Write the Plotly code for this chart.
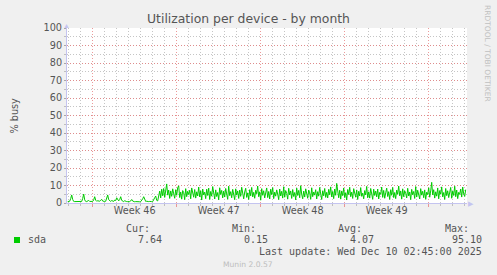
import plotly.graph_objects as go
import pandas as pd

# ---- data (2-hour averages, % busy) ----
series_start = "2025-11-06 22:00"

quiet_period = [
    0.8, 0.7, 1.0, 2.5, 4.6, 2.0, 0.9, 0.8, 0.8, 0.7, 0.8, 0.7,
    0.8, 0.8, 0.9, 2.6, 5.1, 1.8, 0.9, 0.8, 1.2, 1.5, 0.9, 0.8,
    0.8, 0.9, 1.8, 3.6, 1.6, 1.0, 1.3, 0.9, 1.0, 1.6, 2.1, 1.1,
    0.8, 0.9, 1.0, 2.3, 4.6, 1.9, 1.0, 0.9, 1.4, 1.0, 0.9, 1.7,
    1.4, 3.0, 1.5, 1.2, 2.0, 3.6, 1.5, 0.9, 0.8, 1.3, 0.9, 0.8,
    0.8, 0.7, 0.8, 1.2, 2.0, 1.1, 0.8, 0.7, 0.8, 0.7, 0.8, 0.8,
    0.7, 0.8, 1.4, 2.4, 3.6, 1.6, 0.9, 1.0, 0.8, 0.8, 0.9, 0.7,
    0.8, 0.8, 1.6, 3.0, 4.0, 1.5, 1.2, 3.5,
]

busy_period_a = [
    6.8, 2.9, 7.9, 4.1, 8.3, 3.2, 6.1, 10.9, 4.5, 7.4, 2.6, 6.9,
    3.8, 8.1, 5.2, 2.7, 7.6, 4.4, 8.8, 9.8, 3.1, 6.3, 2.2, 7.1,
    5.9, 1.9, 8.2, 3.6, 6.7, 4.8, 7.3, 2.4, 8.6, 5.1, 3.3, 7.7,
    2.8, 6.4, 4.0, 9.1, 3.5, 7.0, 1.7, 8.0, 4.6, 6.2, 2.5, 7.9,
    4.3, 8.5, 2.0, 6.6, 3.9, 9.4, 5.4, 2.3, 7.5, 3.7, 6.0, 1.8,
    8.7, 4.9, 7.2, 2.9, 6.8, 3.4, 8.3, 5.0, 2.1, 9.6, 4.2, 6.5,
    3.0, 7.8, 5.6, 1.9, 8.1, 4.5, 6.9, 2.6, 7.4, 3.8, 9.0, 4.7,
    2.4, 6.3, 8.4, 3.2, 5.8, 2.0, 7.6, 4.1, 8.9, 3.5, 6.1, 2.7,
]

busy_period_b = [
    7.3, 5.3, 9.7, 3.6, 6.4, 1.6, 8.2, 4.4, 7.0, 2.9, 5.7, 8.6,
    3.1, 6.6, 2.3, 7.9, 4.8, 8.8, 2.5, 6.2, 3.9, 7.5, 5.1, 1.9,
    8.0, 4.0, 6.7, 2.8, 9.3, 3.3, 7.1, 5.5, 2.2, 8.4, 4.6, 6.9,
    2.6, 7.7, 3.7, 6.0, 1.8, 8.5, 4.3, 7.2, 3.0, 9.9, 5.0, 2.4,
    6.8, 3.4, 8.1, 4.9, 2.7, 7.4, 5.8, 2.1, 8.7, 3.6, 6.3, 4.5,
    7.6, 2.3, 6.5, 3.9, 8.9, 5.2, 2.0, 7.0, 4.1, 8.3, 3.2, 6.1,
    2.9, 7.8, 4.7, 9.2, 3.5, 6.6, 2.5, 8.0, 4.4, 11.2, 5.3, 3.0,
    7.3, 2.2, 6.9, 4.2, 8.6, 3.1, 5.9, 1.7, 7.7, 4.8, 9.0, 3.6,
    6.2, 2.6, 8.2, 5.1, 3.3, 7.5, 2.0, 6.7, 4.0, 8.8, 3.8, 5.6,
]

busy_period_c = [
    2.4, 7.1, 4.6, 9.5, 3.0, 6.4, 2.8, 8.3, 5.4, 2.1, 7.9, 4.3,
    6.8, 3.5, 8.0, 2.3, 6.1, 4.9, 9.1, 3.2, 7.2, 2.7, 5.8, 8.5,
    3.7, 6.5, 2.0, 7.6, 4.4, 8.9, 3.1, 6.0, 2.5, 7.4, 5.0, 9.7,
    4.1, 6.9, 2.2, 8.1, 3.6, 7.0, 5.5, 2.9, 8.4, 4.0, 6.3, 1.9,
    7.8, 4.7, 6.6, 2.6, 9.4, 3.4, 7.3, 5.2, 2.3, 8.2, 4.5, 6.7,
    3.0, 7.5, 2.1, 6.2, 4.8, 8.7, 3.3, 6.9, 11.8, 4.6, 7.6, 2.8,
    6.4, 3.9, 8.6, 2.4, 7.1, 5.0, 9.2, 3.5, 6.0, 2.0, 8.3, 4.2,
    7.0, 3.1, 5.7, 8.9, 2.7, 6.8, 4.3, 9.6, 3.6, 7.4, 2.5, 6.1,
    4.9, 8.0, 3.4, 9.1, 5.2, 3.8, 7.64,
]

x_range = ["2025-11-06 20:36", "2025-12-10 04:36"]
week_grid_start = "2025-11-09"
week_labels = ["Week 46", "Week 47", "Week 48", "Week 49"]
week_centers = ["2025-11-12 12:00", "2025-11-19 12:00", "2025-11-26 12:00", "2025-12-03 12:00"]
y_ticks = list(range(0, 101, 10))

series_name = "sda"
stat_names = ["Cur:", "Min:", "Avg:", "Max:"]
stat_values = ["7.64", "0.15", "4.07", "95.10"]
last_update = "Last update: Wed Dec 10 02:45:00 2025"
title_text = "Utilization per device - by month"
y_title = "% busy"
side_text = "RRDTOOL / TOBI OETIKER"
footer_text = "Munin 2.0.57"

# ---- figure ----
W, H = 497, 275
L, R, T, B = 67, 30, 28, 72
PW, PH = W - L - R, H - T - B

def px(x):
    return (x - L) / PW

def py(y):
    return (T + PH - y) / PH

values = quiet_period + busy_period_a + busy_period_b + busy_period_c
times = pd.date_range(series_start, periods=len(values), freq="2h")

LINE_GREEN = "#00cc00"
MAJOR = "rgba(230,120,120,0.75)"
MINOR = "rgba(150,150,150,0.55)"
TXT = "#555555"
SANS = "DejaVu Sans"
MONO = "DejaVu Sans Mono"
AXIS = "#c4c4f0"

fig = go.Figure()
fig.add_trace(go.Scatter(
    x=times, y=values, mode="lines",
    line=dict(color=LINE_GREEN, width=1),
    name=series_name, showlegend=False, hoverinfo="skip",
))
fig.add_trace(go.Scatter(
    x=week_centers, y=[None] * len(week_centers), xaxis="x2",
    mode="lines", showlegend=False, hoverinfo="skip",
))

fig.update_layout(
    width=W, height=H, autosize=False,
    margin=dict(l=L, r=R, t=T, b=B, pad=0),
    paper_bgcolor="#f0f0f0", plot_bgcolor="#ffffff",
    title=dict(text=title_text, x=0.5, xref="container", xanchor="center",
               y=1 - 19 / H, yref="container", yanchor="middle",
               font=dict(family=SANS, size=12.4, color=TXT)),
    xaxis=dict(
        type="date", range=x_range,
        tick0=week_grid_start, dtick=7 * 86400000,
        showgrid=True, gridcolor=MAJOR, griddash="1px,2px", gridwidth=1,
        showticklabels=False, ticks="outside", ticklen=3, tickcolor=MAJOR,
        showline=True, linecolor=AXIS, linewidth=1, zeroline=False,
        minor=dict(dtick=86400000, tick0=week_grid_start, showgrid=True,
                   gridcolor=MINOR, griddash="1px,2px", gridwidth=1,
                   ticks="outside", ticklen=2, tickcolor=MINOR),
    ),
    xaxis2=dict(
        type="date", range=x_range, overlaying="x", anchor="y", side="bottom",
        tickmode="array", tickvals=week_centers, ticktext=week_labels,
        showgrid=False, ticks="", showline=False, zeroline=False,
        tickfont=dict(family=SANS, size=9.7, color=TXT),
    ),
    yaxis=dict(
        range=[0, 100], tickmode="array", tickvals=y_ticks,
        showgrid=True, gridcolor=MAJOR, griddash="1px,2px", gridwidth=1,
        ticks="outside", ticklen=2, tickcolor=MINOR,
        tickfont=dict(family=SANS, size=9.7, color=TXT),
        showline=True, linecolor=AXIS, linewidth=1, zeroline=False,
        minor=dict(dtick=5, showgrid=True, gridcolor=MINOR,
                   griddash="1px,2px", gridwidth=1,
                   ticks="outside", ticklen=2, tickcolor=MINOR),
    ),
)

ann = []
ann.append(dict(text=y_title, x=px(14), y=0.5, textangle=-90,
                font=dict(family=SANS, size=9.7, color=TXT)))
ann.append(dict(text=side_text, x=px(488), y=py(53), textangle=90,
                font=dict(family=SANS, size=7.5, color="#c0c0c0")))
ann.append(dict(text="▲", x=px(66.5), y=py(25), font=dict(size=7, color=AXIS)))
ann.append(dict(text="▶", x=px(470.5), y=py(203), font=dict(size=7, color=AXIS)))

name_right = [150.7, 257.3, 363.3, 470.0]
value_right = [162.7, 269.3, 375.3, 482.7]
for nm, vr, xr, xv in zip(stat_names, stat_values, name_right, value_right):
    ann.append(dict(text=nm, x=px(xr + 1), y=py(228.3), xanchor="right",
                    font=dict(family=MONO, size=10, color=TXT)))
    ann.append(dict(text=vr, x=px(xv + 1), y=py(239.6), xanchor="right",
                    font=dict(family=MONO, size=10, color=TXT)))
ann.append(dict(text=series_name, x=px(26), y=py(239.6), xanchor="left",
                font=dict(family=MONO, size=10, color=TXT)))
ann.append(dict(text=last_update, x=px(483.7), y=py(251.2), xanchor="right",
                font=dict(family=MONO, size=10, color=TXT)))
ann.append(dict(text=footer_text, x=px(248), y=py(264.5),
                font=dict(family=SANS, size=7.6, color="#bdbdbd")))

for a in ann:
    a.setdefault("xanchor", "center")
    a.update(xref="paper", yref="paper", yanchor="middle", showarrow=False)
fig.update_layout(annotations=ann)

fig.add_shape(type="rect", xref="paper", yref="paper",
              x0=px(14), x1=px(20), y0=py(237), y1=py(243),
              fillcolor=LINE_GREEN, line=dict(width=0))

fig.write_html("out.html")
